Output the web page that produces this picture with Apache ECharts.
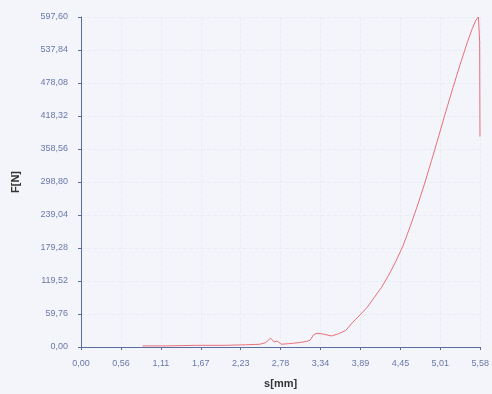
<!DOCTYPE html>
<html><head><meta charset="utf-8">
<script src="https://cdn.jsdelivr.net/npm/echarts@6/dist/echarts.min.js"></script>
<style>html,body{margin:0;padding:0;background:#f4f5fb;}#c{width:492px;height:394px;}</style>
</head><body><div id="c"></div>
<script>
var sValues = [0.86,1.2,1.6,2.0,2.3,2.5,2.58,2.65,2.7,2.74,2.8,2.9,3.05,3.15,3.2,3.25,3.3,3.4,3.5,3.6,3.7,3.8,3.9,4.0,4.1,4.2,4.3,4.4,4.5,4.6,4.7,4.8,4.9,5.0,5.1,5.2,5.3,5.4,5.47,5.52,5.555,5.572,5.576];
var fValues = [2,2,3,3,4,5,8,16,9,11,5,6,8,10,12,22,25,23,20,24,30,45,58,72,90,108,130,155,183,218,255,295,338,382,427,470,512,552,577,592,597.6,552,381];
var xTickLabels = ['0,00','0,56','1,11','1,67','2,23','2,78','3,34','3,89','4,45','5,01','5,58'];
var yTickLabels = ['0,00','59,76','119,52','179,28','239,04','298,80','358,56','418,32','478,08','537,84','597,60'];
var xStep = 0.558, yStep = 59.76;
var pts = sValues.map(function(s,i){return [s,fValues[i]];});
var chart = echarts.init(document.getElementById('c'));
chart.setOption({
  backgroundColor:'#f4f5fb',
  animation:false,
  grid:{left:81,right:9,top:17,bottom:46},
  xAxis:{type:'value',min:0,max:xStep*10,interval:xStep,
    name:'s[mm]',nameLocation:'middle',nameGap:31,
    nameTextStyle:{color:'#333',fontWeight:'bold',fontSize:11,fontFamily:'Liberation Sans'},
    axisLine:{lineStyle:{color:'#5b6c9e',width:1}},
    axisTick:{length:3,lineStyle:{color:'#5b6c9e'}},
    axisLabel:{color:'#6a78a8',fontSize:9,fontFamily:'Liberation Sans',margin:12,
      formatter:function(v){return xTickLabels[Math.round(v/xStep)]||'';}},
    splitLine:{show:true,lineStyle:{color:'#eaedf6',type:'dashed'}}},
  yAxis:{type:'value',min:0,max:yStep*10,interval:yStep,
    name:'F[N]',nameLocation:'middle',nameGap:60,
    nameTextStyle:{color:'#333',fontWeight:'bold',fontSize:11,fontFamily:'Liberation Sans'},
    axisLine:{show:true,lineStyle:{color:'#5b6c9e',width:1}},
    axisTick:{show:true,length:3,lineStyle:{color:'#5b6c9e'}},
    axisLabel:{color:'#6a78a8',fontSize:9,fontFamily:'Liberation Sans',margin:13,
      formatter:function(v){return yTickLabels[Math.round(v/yStep)]||'';}},
    splitLine:{show:true,lineStyle:{color:'#eaedf6',type:'dashed'}}},
  series:[{type:'line',data:pts,showSymbol:false,
    lineStyle:{color:'#e86f78',width:1}}]
});
</script></body></html>
